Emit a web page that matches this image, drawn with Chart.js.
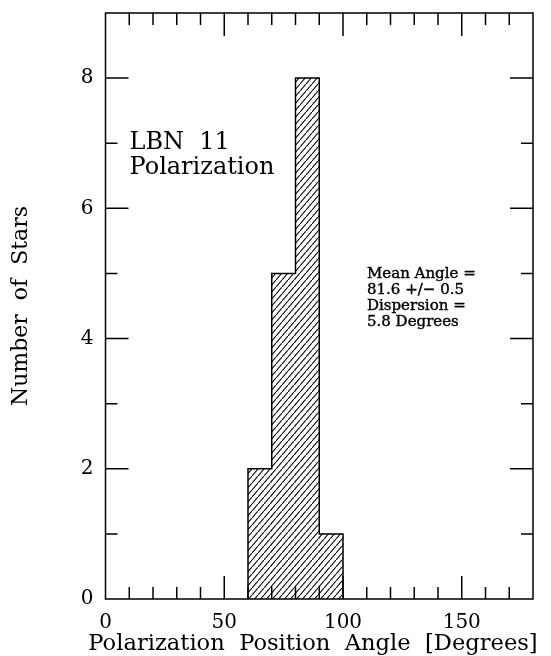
<!DOCTYPE html>
<html>
<head>
<meta charset="utf-8">
<title>LBN 11 Polarization</title>
<script src="https://cdn.jsdelivr.net/npm/chart.js@4.4.1/dist/chart.umd.min.js"></script>
<style>
  html, body { margin: 0; padding: 0; background: #fff; }
  canvas { display: block; }
</style>
</head>
<body>
<canvas id="myChart" width="551" height="656"></canvas>
<script>
// histogram bins (degrees) and counts
const binStarts = [60, 70, 80, 90];
const binWidth = 10;
const starCounts = [2, 5, 8, 1];

// axis ticks
const xTickLabels = [0, 50, 100, 150];
const yTickLabels = [0, 2, 4, 6, 8];
const xMinorStep = 10;
const yMinorStep = 1;

const xTitle = 'Polarization  Position  Angle  [Degrees]';
const yTitle = 'Number  of  Stars';
const titleLines = ['LBN  11', 'Polarization'];
const statLines = ['Mean Angle =', '81.6 +/\u2212 0.5', 'Dispersion =', '5.8 Degrees'];

const serif = "'DejaVu Serif', serif";

// diagonal hatch fill
function hatchPattern() {
  const c = document.createElement('canvas');
  c.width = 6; c.height = 7;
  const g = c.getContext('2d');
  g.strokeStyle = '#000';
  g.lineWidth = 1.1;
  g.beginPath();
  g.moveTo(-1, 7 + 7 / 6); g.lineTo(7, -7 / 6);
  g.stroke();
  return document.getElementById('myChart').getContext('2d').createPattern(c, 'repeat');
}

const barData = binStarts.map((s, i) => ({ x: s + binWidth / 2, y: starCounts[i] }));

// step outline around the histogram
const outline = [];
binStarts.forEach((s, i) => {
  const prev = i === 0 ? 0 : starCounts[i - 1];
  outline.push({ x: s, y: prev });
  outline.push({ x: s, y: starCounts[i] });
});
const lastEdge = binStarts[binStarts.length - 1] + binWidth;
outline.push({ x: lastEdge, y: starCounts[starCounts.length - 1] });
outline.push({ x: lastEdge, y: 0 });

// frame + inward ticks on all four sides, and the text notes
const framePlugin = {
  id: 'frame',
  afterDatasetsDraw(chart) {
    const { ctx, chartArea: a, scales: { x, y } } = chart;
    ctx.save();
    ctx.strokeStyle = '#000';
    ctx.lineWidth = 1.5;
    ctx.strokeRect(a.left, a.top, a.right - a.left, a.bottom - a.top);
    ctx.beginPath();
    for (let v = xMinorStep; v < x.max; v += xMinorStep) {
      const px = x.getPixelForValue(v);
      const len = v % 50 === 0 ? 23 : 12;
      ctx.moveTo(px, a.bottom); ctx.lineTo(px, a.bottom - len);
      ctx.moveTo(px, a.top); ctx.lineTo(px, a.top + len);
    }
    for (let v = yMinorStep; v < y.max; v += yMinorStep) {
      const py = y.getPixelForValue(v);
      const len = v % 2 === 0 ? 23 : 12;
      ctx.moveTo(a.left, py); ctx.lineTo(a.left + len, py);
      ctx.moveTo(a.right, py); ctx.lineTo(a.right - len, py);
    }
    ctx.stroke();

    ctx.fillStyle = '#000';
    ctx.textBaseline = 'alphabetic';

    // x axis title runs a little past the left edge of the frame
    ctx.textAlign = 'center';
    ctx.font = '22.6px ' + serif;
    ctx.fillText(xTitle, 313, 650);

    ctx.textAlign = 'left';
    ctx.font = '24px ' + serif;
    titleLines.forEach((t, i) => ctx.fillText(t, a.left + 24, 149 + i * 25));
    ctx.font = '15px ' + serif;
    ctx.lineWidth = 0.4;
    statLines.forEach((t, i) => {
      ctx.fillText(t, 367, 278 + i * 16);
      ctx.strokeText(t, 367, 278 + i * 16);
    });
    ctx.restore();
  }
};

const ctx = document.getElementById('myChart').getContext('2d');
new Chart(ctx, {
  type: 'bar',
  data: {
    datasets: [{
      type: 'bar',
      data: barData,
      backgroundColor: hatchPattern(),
      borderWidth: 0,
      barPercentage: 1,
      categoryPercentage: 1
    }, {
      type: 'line',
      data: outline,
      borderColor: '#000',
      borderWidth: 1.5,
      pointRadius: 0,
      fill: false,
      tension: 0
    }]
  },
  options: {
    responsive: false,
    animation: false,
    devicePixelRatio: 1,
    layout: { padding: { top: 13, right: 18, left: 0, bottom: 0 } },
    plugins: { legend: { display: false }, tooltip: { enabled: false } },
    scales: {
      x: {
        type: 'linear',
        min: 0, max: 180,
        offset: false,
        grid: { display: false, drawTicks: false },
        border: { display: false },
        afterBuildTicks: s => { s.ticks = xTickLabels.map(v => ({ value: v })); },
        afterFit: s => { s.height = 57; s.paddingLeft = 0; s.paddingRight = 0; },
        ticks: { color: '#000', font: { family: serif, size: 20 }, padding: 12, maxRotation: 0 },
        title: { display: false }
      },
      y: {
        min: 0, max: 9,
        grid: { display: false, drawTicks: false },
        border: { display: false },
        afterBuildTicks: s => { s.ticks = yTickLabels.map(v => ({ value: v })); },
        afterFit: s => { s.width = 105.5; s.paddingTop = 0; s.paddingBottom = 0; },
        ticks: { color: '#000', font: { family: serif, size: 20 }, padding: 12 },
        title: {
          display: true,
          text: yTitle,
          color: '#000',
          font: { family: serif, size: 22 },
          padding: { top: 8, bottom: 0 }
        }
      }
    }
  },
  plugins: [framePlugin]
});
</script>
</body>
</html>
